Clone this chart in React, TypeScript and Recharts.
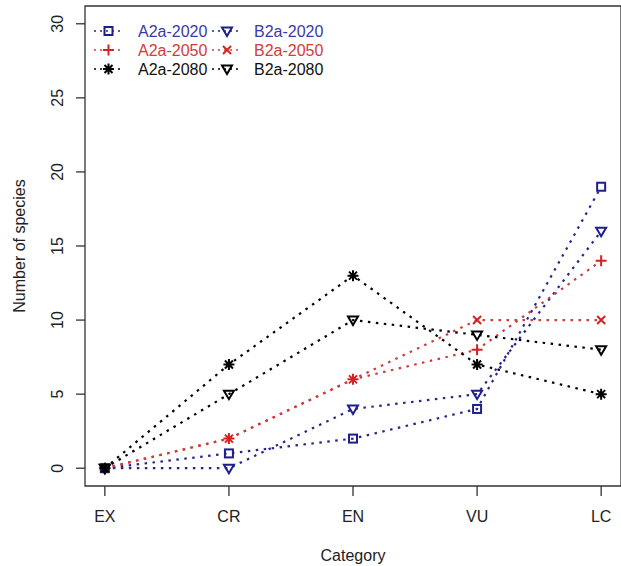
import { Legend, Line, LineChart, ReferenceArea, XAxis, YAxis } from "recharts";

const CATEGORIES = ["EX", "CR", "EN", "VU", "LC"];
const A2A_2020 = [0, 1, 2, 4, 19];
const A2A_2050 = [0, 2, 6, 8, 14];
const A2A_2080 = [0, 7, 13, 7, 5];
const B2A_2020 = [0, 0, 4, 5, 16];
const B2A_2050 = [0, 2, 6, 10, 10];
const B2A_2080 = [0, 5, 10, 9, 8];
const Y_TICKS = [0, 5, 10, 15, 20, 25, 30];
const X_TICKS = [1, 2, 3, 4, 5];

const X_DOMAIN: [number, number] = [0.84, 5.16];
const Y_DOMAIN: [number, number] = [-1.2, 31.2];

type Shape = "square" | "triDown" | "plus" | "cross" | "star";

const BLUE = "#1e1e8c";
const RED = "#d42222";
const BLACK = "#000000";

interface Series {
  name: string;
  values: number[];
  color: string;
  line: string;
  text: string;
  shape: Shape;
}

// legend order is column-wise (R's ncol = 2)
const SERIES: Series[] = [
  { name: "A2a-2020", values: A2A_2020, color: BLUE, line: "#26268c", text: "#3a3aa4", shape: "square" },
  { name: "A2a-2050", values: A2A_2050, color: RED, line: "#cc3c3c", text: "#d43a3a", shape: "plus" },
  { name: "A2a-2080", values: A2A_2080, color: BLACK, line: "#000", text: "#111", shape: "star" },
  { name: "B2a-2020", values: B2A_2020, color: BLUE, line: "#26268c", text: "#3a3aa4", shape: "triDown" },
  { name: "B2a-2050", values: B2A_2050, color: RED, line: "#cc3c3c", text: "#d43a3a", shape: "cross" },
  { name: "B2a-2080", values: B2A_2080, color: BLACK, line: "#000", text: "#111", shape: "triDown" },
];

const DRAW_ORDER = ["A2a-2020", "B2a-2020", "A2a-2050", "B2a-2050", "A2a-2080", "B2a-2080"];

const data = CATEGORIES.map((cat, i) => {
  const row: Record<string, number | string> = { x: i + 1, cat };
  SERIES.forEach((s) => {
    row[s.name] = s.values[i];
  });
  return row;
});

const FONT = "'Liberation Sans', Arial, sans-serif";
const AXIS = "#333";

function Marker({ shape, cx, cy, color }: { shape: Shape; cx: number; cy: number; color: string }) {
  const common = { stroke: color, strokeWidth: 2, fill: "none" };
  if (shape === "square") {
    return <rect x={cx - 4} y={cy - 4} width={8} height={8} {...common} />;
  }
  if (shape === "triDown") {
    return <path d={`M${cx - 5},${cy - 3.5}L${cx + 5},${cy - 3.5}L${cx},${cy + 5}Z`} {...common} />;
  }
  const plus = `M${cx - 5.5},${cy}L${cx + 5.5},${cy}M${cx},${cy - 5.5}L${cx},${cy + 5.5}`;
  const cross = `M${cx - 4},${cy - 4}L${cx + 4},${cy + 4}M${cx - 4},${cy + 4}L${cx + 4},${cy - 4}`;
  if (shape === "plus") return <path d={plus} {...common} />;
  if (shape === "cross") return <path d={cross} {...common} />;
  return <path d={plus + cross} {...common} />;
}

const renderDot = (s: Series) => (p: any) => (
  <g key={`${s.name}-${p.index}`}>
    <Marker shape={s.shape} cx={p.cx} cy={p.cy} color={s.color} />
  </g>
);

function XTick(p: any) {
  return (
    <text x={p.x} y={p.y} dy="0.36em" textAnchor="middle" fontSize={16} fontFamily={FONT} fill="#222">
      {CATEGORIES[p.payload.value - 1]}
    </text>
  );
}

function YTick(p: any) {
  return (
    <text
      x={p.x}
      y={p.y}
      textAnchor="middle"
      transform={`rotate(-90, ${p.x}, ${p.y})`}
      fontSize={16}
      fontFamily={FONT}
      fill="#222"
    >
      {p.payload.value}
    </text>
  );
}

function LegendBox() {
  const rows = [31, 50, 69];
  const cols = [
    { x1: 94, x2: 123, mx: 108.5, tx: 138 },
    { x1: 212, x2: 242, mx: 227, tx: 254 },
  ];
  return (
    <svg width={360} height={90} style={{ display: "block" }}>
      {SERIES.map((s, i) => {
        const c = cols[Math.floor(i / 3)];
        const y = rows[i % 3];
        return (
          <g key={s.name}>
            <line x1={c.x1} x2={c.x2} y1={y} y2={y} stroke={s.line} strokeWidth={1.6} strokeDasharray="2 4" />
            <Marker shape={s.shape} cx={c.mx} cy={y} color={s.color} />
            <text x={c.tx} y={y} dy="0.36em" fontSize={16} fontFamily={FONT} fill={s.text}>
              {s.name}
            </text>
          </g>
        );
      })}
    </svg>
  );
}

export default function App() {
  const ordered = DRAW_ORDER.map((n) => SERIES.find((s) => s.name === n)!);
  return (
    <div
      style={{
        position: "absolute",
        left: 0,
        top: 0,
        width: 621,
        height: 566,
        overflow: "hidden",
        background: "#fff",
        fontFamily: FONT,
      }}
    >
      <LineChart width={621} height={566} data={data} margin={{ top: 6, right: 0, bottom: 0, left: 0 }}>
        <XAxis
          dataKey="x"
          type="number"
          domain={X_DOMAIN}
          ticks={X_TICKS}
          interval={0}
          height={80}
          tickSize={10}
          tickMargin={20}
          tick={<XTick />}
          axisLine={false}
          tickLine={{ stroke: AXIS, strokeWidth: 1.3 }}
          label={{
            content: (lp: any) => (
              <text
                x={lp.viewBox.x + lp.viewBox.width / 2}
                y={lp.viewBox.y + 69}
                dy="0.36em"
                textAnchor="middle"
                fontSize={16}
                fontFamily={FONT}
                fill="#222"
              >
                Category
              </text>
            ),
          }}
        />
        <YAxis
          type="number"
          domain={Y_DOMAIN}
          ticks={Y_TICKS}
          interval={0}
          width={85}
          tickSize={9}
          tickMargin={13}
          tick={<YTick />}
          axisLine={false}
          tickLine={{ stroke: AXIS, strokeWidth: 1.3 }}
          label={{
            content: (lp: any) => {
              const x = lp.viewBox.x + 19;
              const y = lp.viewBox.y + lp.viewBox.height / 2;
              return (
                <text
                  x={x}
                  y={y}
                  dy="0.36em"
                  textAnchor="middle"
                  transform={`rotate(-90, ${x}, ${y})`}
                  fontSize={16}
                  fontFamily={FONT}
                  fill="#222"
                >
                  Number of species
                </text>
              );
            },
          }}
        />
        <ReferenceArea
          x1={X_DOMAIN[0]}
          x2={X_DOMAIN[1]}
          y1={Y_DOMAIN[0]}
          y2={Y_DOMAIN[1]}
          fill="none"
          stroke={AXIS}
          strokeWidth={1.3}
          ifOverflow="visible"
        />
        {ordered.map((s) => (
          <Line
            key={s.name}
            dataKey={s.name}
            type="linear"
            stroke={s.line}
            strokeWidth={2.2}
            strokeDasharray="2.5 5.5"
            dot={renderDot(s)}
            activeDot={false}
            isAnimationActive={false}
          />
        ))}
        <Legend
          layout="vertical"
          align="center"
          verticalAlign="middle"
          wrapperStyle={{ position: "absolute", left: 0, top: 0, width: 360, height: 90 }}
          content={() => <LegendBox />}
        />
      </LineChart>
    </div>
  );
}
